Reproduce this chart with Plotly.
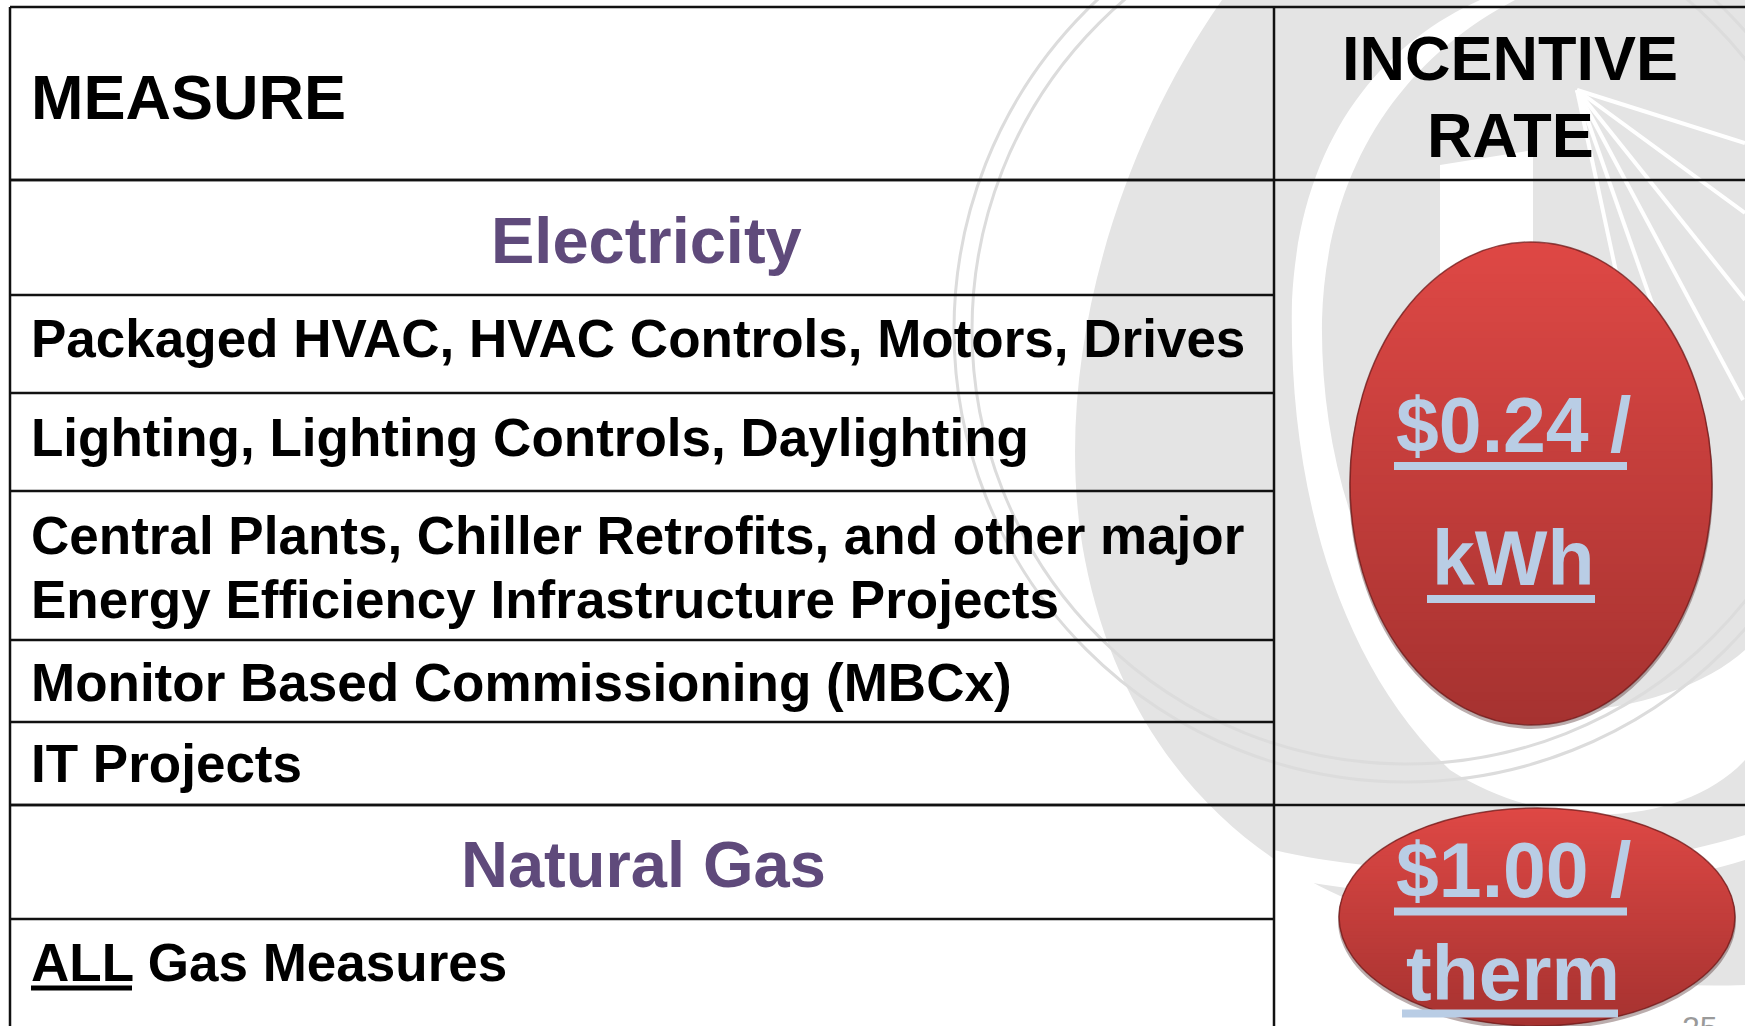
import plotly.graph_objects as go
import numpy as np

# ---------------- data ----------------
measure_header = "MEASURE"
rate_header = ["INCENTIVE", "RATE"]
sections = ["Electricity", "Natural Gas"]
electric_measures = [
    "Packaged HVAC, HVAC Controls, Motors, Drives",
    "Lighting, Lighting Controls, Daylighting",
    "Central Plants, Chiller Retrofits, and other major<br>Energy Efficiency Infrastructure Projects",
    "Monitor Based Commissioning (MBCx)",
    "IT Projects",
]
gas_measures = ["ALL Gas Measures"]
rate_values = ["$0.24 /", "$1.00 /"]
rate_units = ["kWh", "therm"]
page_number = "25"

# ---------------- layout constants ----------------
W, H = 1745, 1026
SANS = "Liberation Sans, Arial, sans-serif"
PURPLE = "#5F4A7B"
LIGHTBLUE = "#B9CDE5"
GRAY = "#E4E4E4"
LINE = "#111111"

x_left, x_div = 10, 1274
y_top = 7
left_edges = [180, 295, 393, 491, 640, 722, 805, 919]
full_edges = [y_top, 180, 805]

fig = go.Figure()
shapes = []

# ---------------- background watermark ----------------
shapes.append(dict(type="path", layer="above", line=dict(width=0), fillcolor=GRAY,
                   path="M 1222,0 C 1110,160 1050,380 1085,560 C 1120,740 1230,850 1350,900 "
                        "C 1450,960 1600,990 1745,985 L 1745,0 Z"))
# white swoosh ring around the upper ellipse
shapes.append(dict(type="path", layer="above", line=dict(width=0), fillcolor="white",
                   path="M 1480,0 C 1380,45 1300,140 1292,300 C 1288,480 1335,660 1450,770 "
                        "C 1560,840 1690,820 1745,760 L 1745,650 "
                        "C 1690,700 1560,735 1465,690 C 1365,610 1320,460 1322,320 "
                        "C 1326,170 1400,60 1515,0 Z"))
# white vertical strip
shapes.append(dict(type="path", layer="above", line=dict(width=0), fillcolor="white",
                   path="M 1440,165 L 1533,150 L 1533,600 L 1440,600 Z"))
# white rays
for (ex, ey) in [(1745, 143), (1745, 213), (1745, 300), (1743, 400), (1693, 420), (1650, 430)]:
    shapes.append(dict(type="line", layer="above", x0=1577, y0=90, x1=ex, y1=ey,
                       line=dict(color="white", width=4)))
# lower white swoosh near the gas ellipse
shapes.append(dict(type="path", layer="above", line=dict(width=0), fillcolor="white",
                   path="M 1274,850 C 1400,880 1600,880 1745,835 L 1745,860 "
                        "C 1600,905 1400,905 1274,875 Z"))
# thin gray arcs
for r in (452, 434):
    shapes.append(dict(type="circle", layer="above", x0=1406 - r, x1=1406 + r, y0=330 - r, y1=330 + r,
                       line=dict(color="#DCDCDC", width=3), fillcolor="rgba(0,0,0,0)"))


# ---------------- red ellipses with vertical gradient ----------------
def lerp(c0, c1, t):
    return "rgb(%d,%d,%d)" % tuple(int(round(a + (b - a) * t)) for a, b in zip(c0, c1))


def add_ellipse(cx, cy, rx, ry, top=(222, 72, 69), bot=(166, 50, 48), n=60):
    shapes.append(dict(type="circle", layer="above", x0=cx - rx - 1, x1=cx + rx + 1,
                       y0=cy - ry + 3, y1=cy + ry + 4, fillcolor="rgba(60,20,20,0.35)",
                       line=dict(width=0)))
    for i in range(n):
        y0 = cy - ry + 2 * ry * i / n
        y1 = min(cy - ry + 2 * ry * (i + 1) / n + 0.9, cy + ry)
        ys = np.linspace(y0, y1, 7)
        half = rx * np.sqrt(np.clip(1 - ((ys - cy) / ry) ** 2, 0, 1))
        pts = [(cx + h, y) for h, y in zip(half, ys)] + [(cx - h, y) for h, y in zip(half[::-1], ys[::-1])]
        path = "M " + " L ".join("%.2f,%.2f" % p for p in pts) + " Z"
        t = (i + 0.5) / n
        shapes.append(dict(type="path", layer="above", path=path, fillcolor=lerp(top, bot, t),
                           line=dict(width=0)))
    shapes.append(dict(type="circle", layer="above", x0=cx - rx, x1=cx + rx, y0=cy - ry, y1=cy + ry,
                       fillcolor="rgba(0,0,0,0)", line=dict(color="rgba(110,25,25,0.75)", width=1.5)))


add_ellipse(1531, 483.5, 181, 241.5)
add_ellipse(1537, 917, 198, 109)

# ---------------- table grid ----------------
for y in left_edges:
    shapes.append(dict(type="line", layer="above", x0=x_left, x1=x_div, y0=y, y1=y,
                       line=dict(color=LINE, width=2.5)))
for y in full_edges:
    shapes.append(dict(type="line", layer="above", x0=x_left, x1=W + 5, y0=y, y1=y,
                       line=dict(color=LINE, width=2.5)))
for x in (x_left, x_div):
    shapes.append(dict(type="line", layer="above", x0=x, x1=x, y0=y_top, y1=H + 5,
                       line=dict(color=LINE, width=2.5)))

# ---------------- underlines (decoration) ----------------
underlines = [
    (1394, 1627, 466, 8, LIGHTBLUE), (1427, 1595, 599, 8, LIGHTBLUE),
    (1394, 1627, 911.5, 8, LIGHTBLUE), (1402, 1618, 1013.5, 8, LIGHTBLUE),
    (31, 132, 988, 5, "black"),
]
for x0, x1, y, w, c in underlines:
    shapes.append(dict(type="line", layer="above", x0=x0, x1=x1, y0=y, y1=y,
                       line=dict(color=c, width=w)))


# ---------------- text ----------------
def txt(s, x, baseline, size, color="black", anchor="left", family=SANS, bold=True):
    yc = baseline - 0.3465 * size
    label = "<b>%s</b>" % s if bold else s
    fig.add_annotation(x=x, y=yc, xref="x", yref="y", text=label, showarrow=False,
                       xanchor=anchor, yanchor="middle", borderpad=0,
                       font=dict(family=family, size=size, color=color))


txt(measure_header, 30, 119, 63)
txt(rate_header[0], 1510, 80, 63, anchor="center")
txt(rate_header[1], 1510, 157, 63, anchor="center")

txt(sections[0], 646, 263, 65, color=PURPLE, anchor="center")
txt(sections[1], 643, 887, 65, color=PURPLE, anchor="center")

measure_baselines = [[357], [456], [554, 618], [701], [782]]
for label, bls in zip(electric_measures, measure_baselines):
    for line, bl in zip(label.split("<br>"), bls):
        txt(line, 30, bl, 53)
txt(gas_measures[0], 30, 981, 53)

rate_baselines = [(452, 585), (897, 1000)]
for val, unit, (b1, b2) in zip(rate_values, rate_units, rate_baselines):
    txt(val, 1513, b1, 77, color=LIGHTBLUE, anchor="center")
    txt(unit, 1513, b2, 77, color=LIGHTBLUE, anchor="center")

# page number (mostly below the visible area, anchored at its top edge)
fig.add_annotation(x=1700, y=1009, xref="x", yref="y", text=page_number, showarrow=False,
                   xanchor="center", yanchor="top", borderpad=0,
                   font=dict(family=SANS, size=32, color="#9A9A9A"))

fig.update_layout(
    width=W, height=H, margin=dict(l=0, r=0, t=0, b=0),
    paper_bgcolor="white", plot_bgcolor="white", showlegend=False,
    xaxis=dict(range=[0, W], visible=False, fixedrange=True),
    yaxis=dict(range=[H, 0], visible=False, fixedrange=True),
    shapes=shapes,
)
fig.write_html("out.html", config={"displayModeBar": False},
               post_script="document.body.style.margin='0';document.body.style.overflow='hidden';")
